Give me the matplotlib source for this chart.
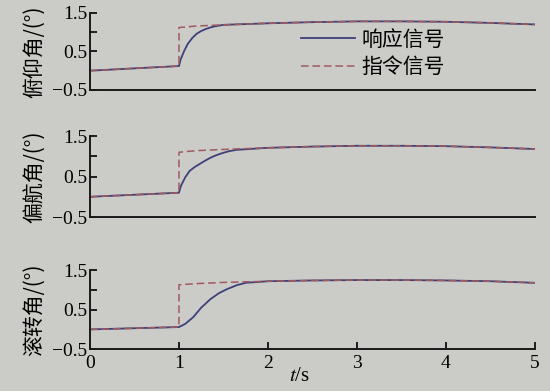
import matplotlib
matplotlib.use("Agg")
import matplotlib.pyplot as plt

plt.rcParams['font.family'] = 'serif'
plt.rcParams['font.serif'] = ['Liberation Serif', 'DejaVu Serif']
plt.rcParams['mathtext.fontset'] = 'stix'

PAPER = '#cbcbc7'
C_RESP = '#3d4079'
C_CMD = '#a05a60'

# command signal (same time points for all three channels)
t_cmd = [0, 1, 1, 1.2, 1.5, 2, 2.5, 3, 3.5, 4, 4.5, 5]
pitch_cmd = [0.0, 0.12, 1.12, 1.16, 1.19, 1.23, 1.26, 1.28, 1.28, 1.27, 1.24, 1.2]
yaw_cmd = [0.0, 0.1, 1.1, 1.14, 1.17, 1.21, 1.24, 1.26, 1.26, 1.25, 1.22, 1.18]
roll_cmd = [0.0, 0.06, 1.13, 1.16, 1.19, 1.22, 1.24, 1.25, 1.25, 1.24, 1.22, 1.18]

# response signal
t_pitch = [0, 1, 1.02, 1.06, 1.1, 1.15, 1.2, 1.25, 1.3, 1.35, 1.4, 1.5,
           2, 2.5, 3, 3.5, 4, 4.5, 5]
pitch_resp = [0.0, 0.12, 0.3, 0.52, 0.7, 0.85, 0.96, 1.03, 1.08, 1.12, 1.15, 1.19,
              1.23, 1.26, 1.28, 1.28, 1.27, 1.24, 1.2]

t_yaw = [0, 1, 1.02, 1.07, 1.12, 1.18, 1.24, 1.3, 1.35, 1.4, 1.46, 1.52, 1.57, 1.65,
         2, 2.5, 3, 3.5, 4, 4.5, 5]
yaw_resp = [0.0, 0.1, 0.26, 0.48, 0.64, 0.74, 0.82, 0.9, 0.96, 1.01, 1.06, 1.1, 1.13, 1.16,
            1.21, 1.24, 1.26, 1.26, 1.25, 1.22, 1.18]

t_roll = [0, 1, 1.07, 1.16, 1.25, 1.35, 1.45, 1.54, 1.65, 1.75,
          2, 2.5, 3, 3.5, 4, 4.5, 5]
roll_resp = [0.0, 0.06, 0.14, 0.31, 0.55, 0.76, 0.92, 1.02, 1.12, 1.18,
             1.22, 1.24, 1.25, 1.25, 1.24, 1.22, 1.18]

ylabels = ['俯仰角/(°)', '偏航角/(°)', '滚转角/(°)']
legend_labels = ['响应信号', '指令信号']

panels = [
    (t_pitch, pitch_resp, pitch_cmd),
    (t_yaw, yaw_resp, yaw_cmd),
    (t_roll, roll_resp, roll_cmd),
]

fig = plt.figure(figsize=(5.5, 3.91), dpi=100)
fig.patch.set_facecolor(PAPER)

boxes = [
    [0.1636, 0.770, 0.809, 0.197],
    [0.1636, 0.445, 0.809, 0.207],
    [0.1636, 0.107, 0.809, 0.202],
]

for i, (t_r, resp, cmd) in enumerate(panels):
    ax = fig.add_axes(boxes[i])
    ax.set_facecolor(PAPER)
    ax.plot(t_r, resp, color=C_RESP, lw=1.3, label=legend_labels[0])
    ax.plot(t_cmd, cmd, color=C_CMD, lw=1.1, ls=(0, (5, 2.5)), label=legend_labels[1])

    ax.set_xlim(0, 5)
    ax.set_ylim(-0.5, 1.5)
    for s in ['top', 'right']:
        ax.spines[s].set_visible(False)
    for s in ['left', 'bottom']:
        ax.spines[s].set_linewidth(1.4)
        ax.spines[s].set_color('#1a1a1a')

    ax.set_yticks([-0.5, 0.5, 1.5])
    ax.set_yticklabels(['−0.5', '0.5', '1.5'])
    ax.set_yticks([1.0], minor=True)
    ax.tick_params(axis='y', which='both', direction='in', length=5, width=1.2,
                   labelsize=14, pad=2)
    ax.set_ylabel(ylabels[i], fontsize=15, family=['Noto Sans CJK SC', 'DejaVu Sans'])
    ax.yaxis.set_label_coords(-0.10, 0.5)

    if i < 2:
        ax.set_xticks([])
    else:
        ax.set_xticks([0, 1, 2, 3, 4, 5])
        ax.tick_params(axis='x', direction='in', length=5, width=1.2,
                       labelsize=14, pad=4)
        ax.set_xlabel('$t$/s', fontsize=15)
        ax.xaxis.set_label_coords(0.47, -0.22)

    if i == 0:
        ax.legend(loc='upper left', bbox_to_anchor=(0.45, 0.93), frameon=False,
                  prop={'family': ['Noto Sans CJK SC'], 'size': 15},
                  handlelength=2.6, handletextpad=0.3, labelspacing=0.25,
                  borderpad=0)

fig.savefig('out.png', dpi=100, facecolor=PAPER)
